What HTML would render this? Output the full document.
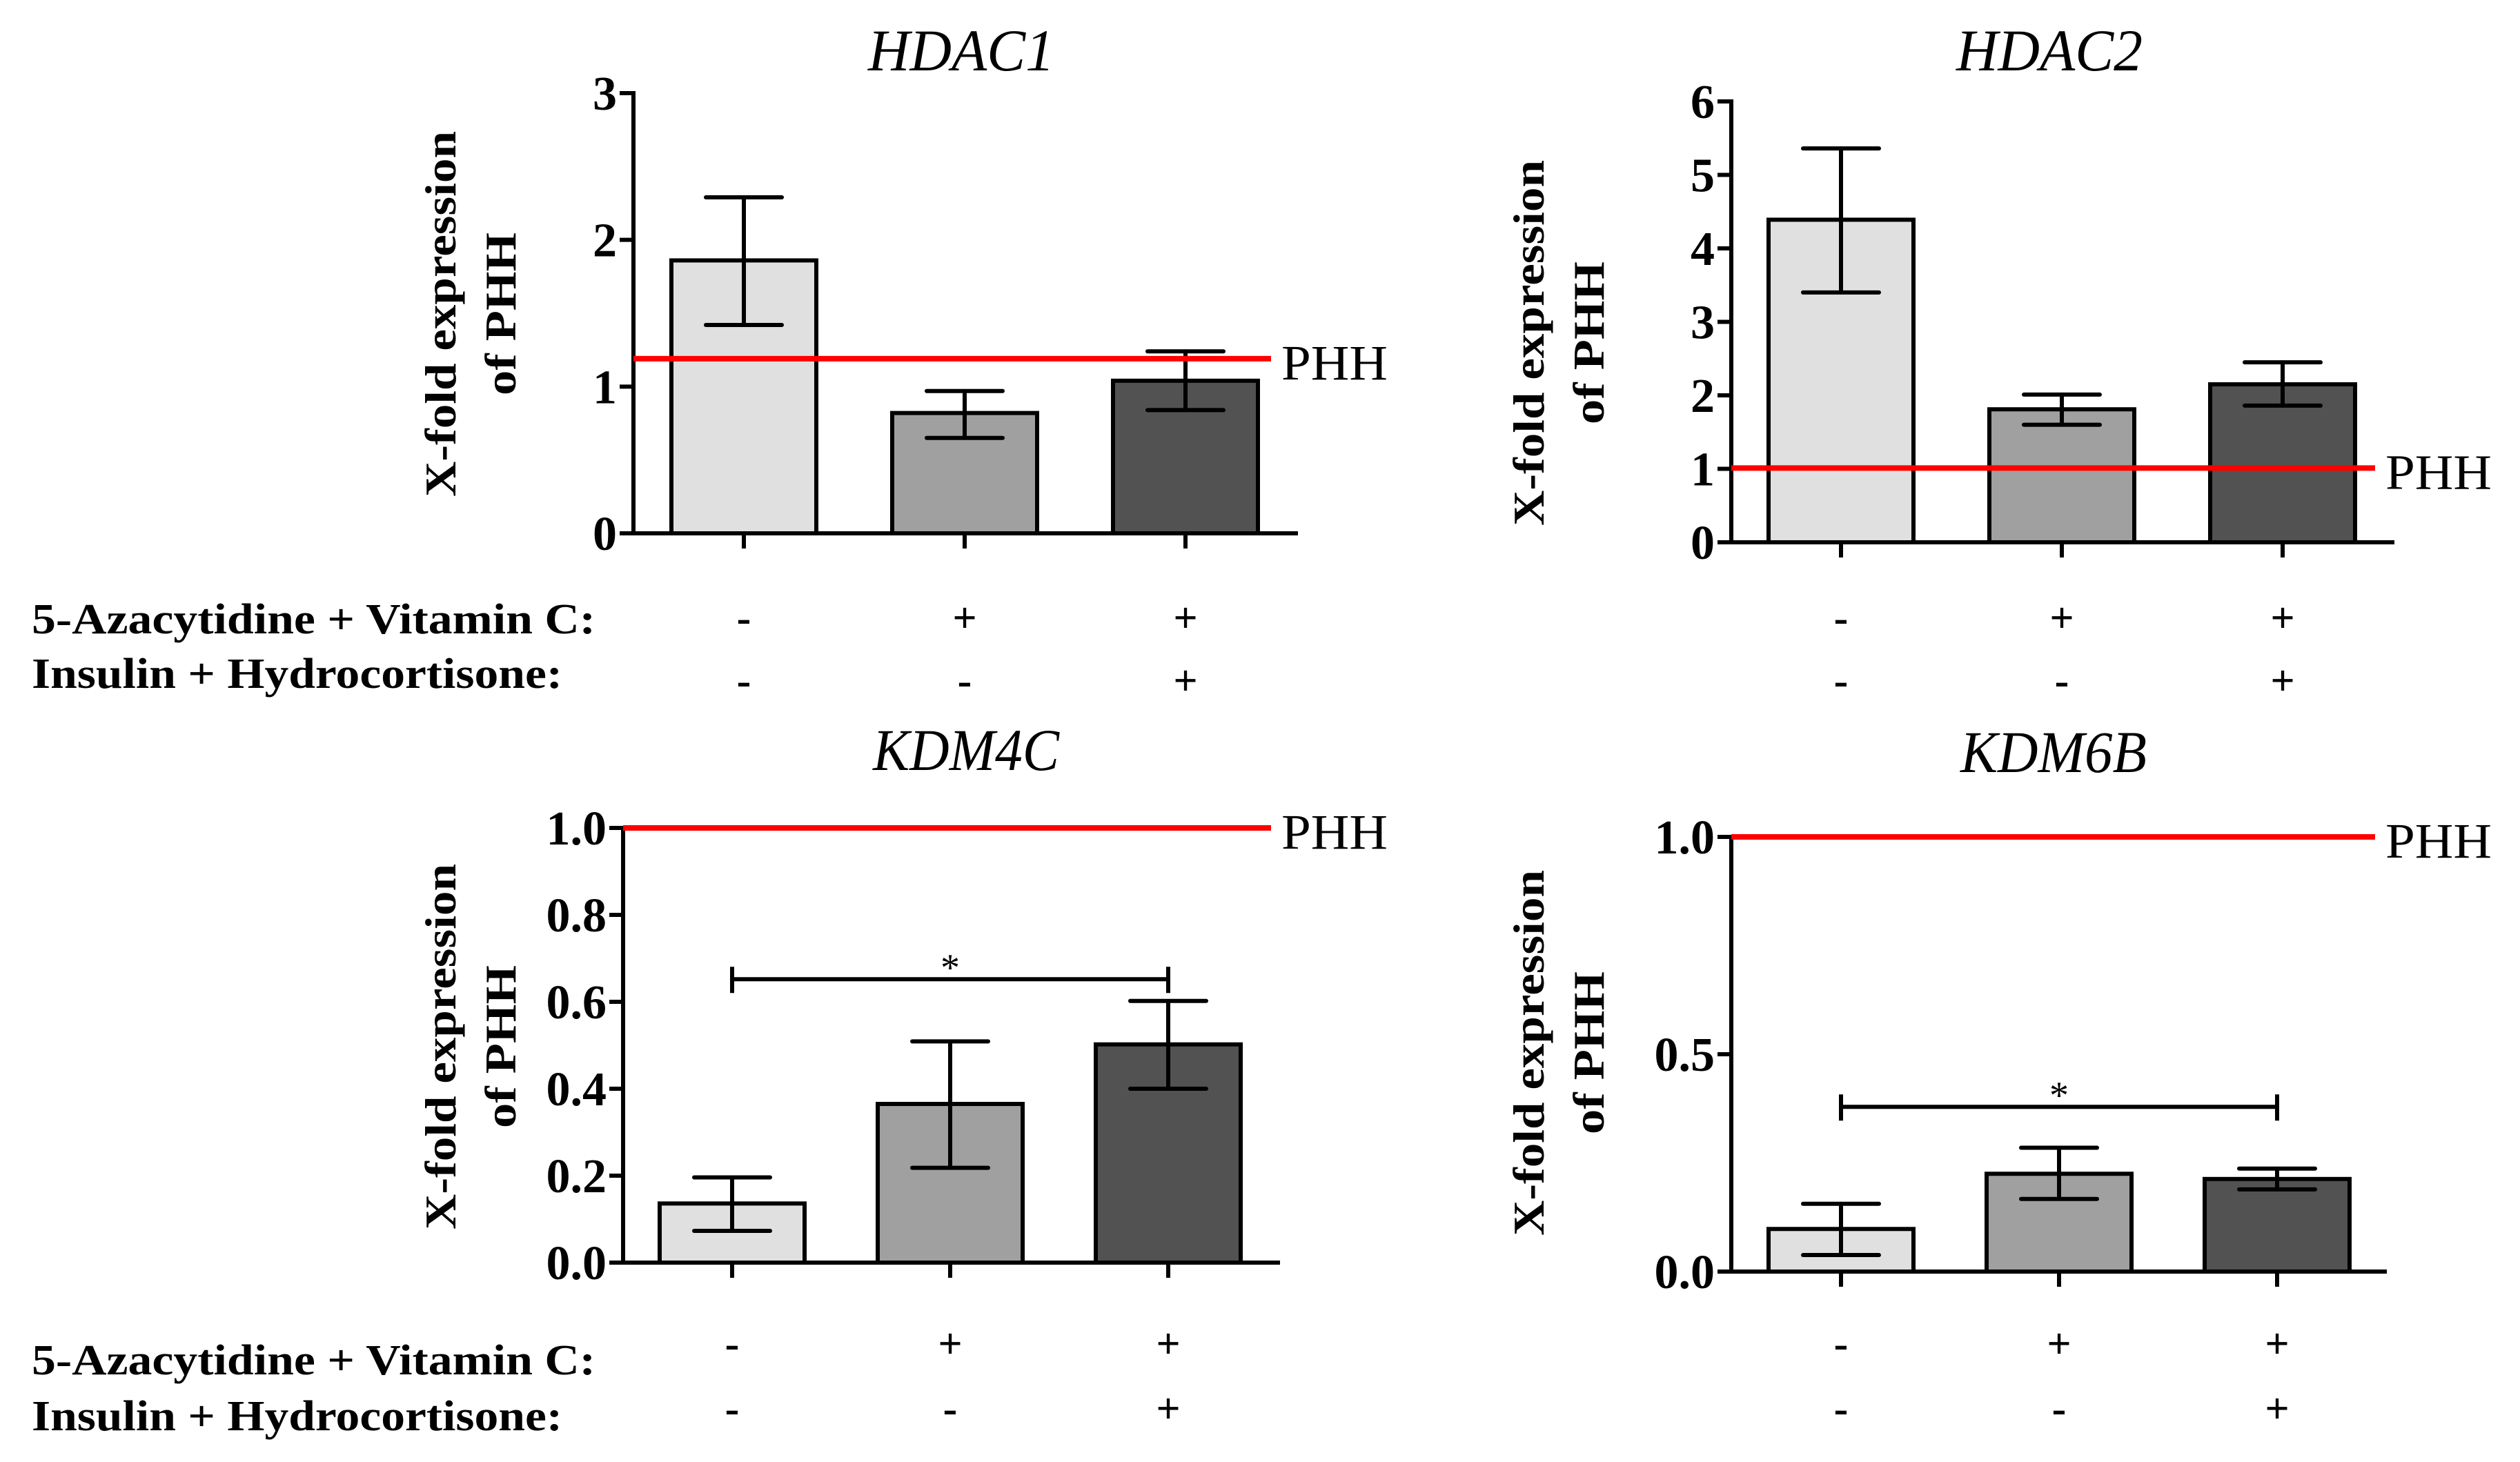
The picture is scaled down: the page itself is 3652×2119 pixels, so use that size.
<!DOCTYPE html>
<html><head><meta charset="utf-8">
<style>
html,body{margin:0;padding:0;background:#fff;}
svg{display:block;}
text{font-family:"Liberation Serif",serif;}
</style></head>
<body>
<svg id="fig" width="3652" height="2119" viewBox="0 0 3652 2119" xmlns="http://www.w3.org/2000/svg"></svg>
<script>
// ---- data ----
const categories = ["ctrl", "aza-vitc", "aza-vitc-ins-hc"];
const hdac1Values = [1.86, 0.82, 1.04];
const hdac1Upper = [2.29, 0.97, 1.24];
const hdac1Lower = [1.42, 0.65, 0.84];
const hdac1Ref = 1.19;
const hdac1Ticks = ["0", "1", "2", "3"];
const hdac2Values = [4.39, 1.81, 2.15];
const hdac2Upper = [5.36, 2.01, 2.45];
const hdac2Lower = [3.40, 1.60, 1.86];
const hdac2Ref = 1.01;
const hdac2Ticks = ["0", "1", "2", "3", "4", "5", "6"];
const kdm4cValues = [0.136, 0.365, 0.502];
const kdm4cUpper = [0.196, 0.509, 0.602];
const kdm4cLower = [0.073, 0.218, 0.40];
const kdm4cRef = 1.0;
const kdm4cTicks = ["0.0", "0.2", "0.4", "0.6", "0.8", "1.0"];
const kdm4cSig = 0.652;
const kdm6bValues = [0.098, 0.225, 0.213];
const kdm6bUpper = [0.156, 0.285, 0.237];
const kdm6bLower = [0.038, 0.167, 0.189];
const kdm6bRef = 1.0;
const kdm6bTicks = ["0.0", "0.5", "1.0"];
const kdm6bSig = 0.379;
const row1Signs = ["-", "+", "+"];
const row2Signs = ["-", "-", "+"];

const NS = "http://www.w3.org/2000/svg";
const svg = document.getElementById("fig");
function mk(tag, attrs, parent, txt) {
  const e = document.createElementNS(NS, tag);
  for (const k in attrs) e.setAttribute(k, attrs[k]);
  if (txt !== undefined) e.textContent = txt;
  (parent || svg).appendChild(e);
  return e;
}
const fills = ["#e0e0e0", "#a0a0a0", "#525252"];

function panel(p) {
  const g = mk("g", {});
  
  
  const tmax = parseFloat(p.ticks[p.ticks.length - 1]);
  const y = v => p.y0 - (v / tmax) * (p.y0 - p.yTop);
  const cx = i => p.c0 + i * p.step;
  const t = mk("text", {x: p.titleX, y: p.titleY, "text-anchor": "middle", "font-size": 86, "font-style": "italic", textLength: 270, lengthAdjust: "spacingAndGlyphs"}, g, p.title);
  
  
  const yl = mk("g", {transform: `translate(${p.ylX},${p.ylY}) rotate(-90)`}, g);
  
  
  mk("text", {x: 0, y: 0, "text-anchor": "middle", "font-size": 64, "font-weight": "bold", textLength: 530, lengthAdjust: "spacingAndGlyphs"}, yl, "X-fold expression");
  mk("text", {x: 0, y: 87, "text-anchor": "middle", "font-size": 64, "font-weight": "bold", textLength: 236, lengthAdjust: "spacingAndGlyphs"}, yl, "of PHH");
  p.values.forEach((v, i) => {
    const r = mk("rect", {x: cx(i) - 105, y: y(v), width: 210, height: p.y0 - y(v), fill: fills[i], stroke: "#000", "stroke-width": 6}, g);
    
    
    const eg = mk("g", {stroke: "#000", "stroke-width": 6, "stroke-linecap": "round"}, g);
    
    
    mk("line", {x1: cx(i), x2: cx(i), y1: y(p.upper[i]), y2: y(p.lower[i])}, eg);
    mk("line", {x1: cx(i) - 55, x2: cx(i) + 55, y1: y(p.upper[i]), y2: y(p.upper[i])}, eg);
    mk("line", {x1: cx(i) - 55, x2: cx(i) + 55, y1: y(p.lower[i]), y2: y(p.lower[i])}, eg);
  });
  const ax = mk("g", {stroke: "#000", "stroke-width": 6}, g);
  
  
  mk("line", {x1: p.ax, x2: p.ax, y1: p.yTop - 3, y2: p.y0 + 3}, ax);
  mk("line", {x1: p.ax - 20, x2: p.axEnd, y1: p.y0, y2: p.y0}, ax);
  p.ticks.forEach(tk => {
    const ty = y(parseFloat(tk));
    mk("line", {x1: p.ax - 20, x2: p.ax, y1: ty, y2: ty}, ax);
    const tl = mk("text", {x: p.ax - 24, y: ty + 24, "text-anchor": "end", "font-size": 70, "font-weight": "bold"}, g, tk);
    
    
  });
  categories.forEach((c, i) => {
    mk("line", {x1: cx(i), x2: cx(i), y1: p.y0, y2: p.y0 + 22}, ax);
  });
  const rl = mk("line", {x1: p.ax, x2: p.refEnd, y1: y(p.ref), y2: y(p.ref), stroke: "#ff0000", "stroke-width": 8}, g);
  
  
  const pl = mk("text", {x: p.refEnd + 15, y: y(p.ref) + 30, "font-size": 72, textLength: 154, lengthAdjust: "spacingAndGlyphs"}, g, "PHH");
  
  
  if (p.sig !== undefined) {
    const sg = mk("g", {stroke: "#000", "stroke-width": 6}, g);
    
    
    const sy = y(p.sig);
    mk("line", {x1: cx(0), x2: cx(2), y1: sy, y2: sy}, sg);
    mk("line", {x1: cx(0), x2: cx(0), y1: sy - 18, y2: sy + 20}, sg);
    mk("line", {x1: cx(2), x2: cx(2), y1: sy - 18, y2: sy + 20}, sg);
    const st = mk("text", {x: (cx(0) + cx(2)) / 2, y: sy + 2, "text-anchor": "middle", "font-size": 56}, g, "*");
    
    
  }
  [row1Signs, row2Signs].forEach((signs, r) => {
    signs.forEach((s, i) => {
      const st = mk("text", {x: cx(i), y: p.rowY[r] + 20, "text-anchor": "middle", "font-size": 62, "font-weight": "bold"}, g, s);
      
      
    });
  });
  if (p.rowLabels) {
    const l1 = mk("text", {x: 46, y: p.rowLabelY[0], "font-size": 62, "font-weight": "bold", textLength: 817, lengthAdjust: "spacingAndGlyphs"}, g, "5-Azacytidine + Vitamin C:");
    
    
    const l2 = mk("text", {x: 46, y: p.rowLabelY[1], "font-size": 62, "font-weight": "bold", textLength: 769, lengthAdjust: "spacingAndGlyphs"}, g, "Insulin + Hydrocortisone:");
    
    
  }
}

panel({name: "hdac1", title: "HDAC1", titleX: 1393, titleY: 102, values: hdac1Values, upper: hdac1Upper, lower: hdac1Lower, ref: hdac1Ref, ticks: hdac1Ticks,
  ax: 918, axEnd: 1881, yTop: 135, y0: 773, c0: 1078, step: 320, refEnd: 1842, ylX: 660, ylY: 455,
  rowY: [896, 987], rowLabels: true, rowLabelY: [918, 997]});
panel({name: "hdac2", title: "HDAC2", titleX: 2970, titleY: 102, values: hdac2Values, upper: hdac2Upper, lower: hdac2Lower, ref: hdac2Ref, ticks: hdac2Ticks,
  ax: 2509, axEnd: 3470, yTop: 147, y0: 786, c0: 2668, step: 320, refEnd: 3442, ylX: 2237, ylY: 497,
  rowY: [896, 987]});
panel({name: "kdm4c", title: "KDM4C", titleX: 1400, titleY: 1116, values: kdm4cValues, upper: kdm4cUpper, lower: kdm4cLower, ref: kdm4cRef, ticks: kdm4cTicks, sig: kdm4cSig,
  ax: 903, axEnd: 1855, yTop: 1200, y0: 1830, c0: 1061, step: 316, refEnd: 1842, ylX: 660, ylY: 1517,
  rowY: [1948, 2042], rowLabels: true, rowLabelY: [1992, 2073]});
panel({name: "kdm6b", title: "KDM6B", titleX: 2976, titleY: 1119, values: kdm6bValues, upper: kdm6bUpper, lower: kdm6bLower, ref: kdm6bRef, ticks: kdm6bTicks, sig: kdm6bSig,
  ax: 2509, axEnd: 3459, yTop: 1213, y0: 1843, c0: 2668, step: 316, refEnd: 3442, ylX: 2237, ylY: 1526,
  rowY: [1948, 2042]});
</script>
</body></html>
